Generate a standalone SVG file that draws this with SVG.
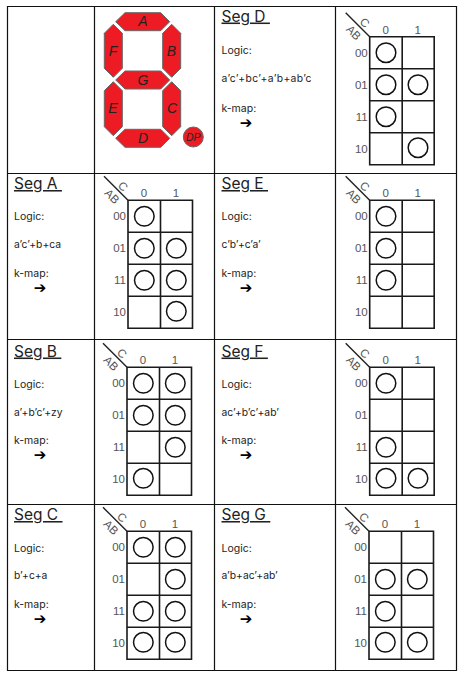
<svg xmlns="http://www.w3.org/2000/svg" width="465" height="680" viewBox="0 0 465 680">
<style>
.t{font-family:"Inter","Liberation Sans",sans-serif;fill:#222}
.h{font-size:15.5px;text-decoration:underline}
.l{font-size:10.5px}
.f{font-size:10.3px}
.ar{font-family:"DejaVu Sans",sans-serif;font-size:15px;font-weight:bold;fill:#000;text-anchor:middle}
.m{font-family:"Liberation Sans",sans-serif;font-size:11.5px;fill:#555}
.mc{text-anchor:middle}
.me{text-anchor:end}
.c{fill:none;stroke:#111;stroke-width:1.5}
.grid{fill:none;stroke:#1a1a1a;stroke-width:1.6}
.seg{fill:#ed1c24;stroke:#666;stroke-width:1}
.sl{font-family:"Liberation Sans",sans-serif;font-style:italic;font-size:14px;fill:#222;text-anchor:middle}
</style>
<defs>
<g id="frame">
<path class="grid" d="M0 0H64.500V128H0ZM32.500 0V128M0 32H64.500M0 64H64.500M0 96H64.500"/>
<path d="M-24-24L0 0" stroke="#222" stroke-width="1.4" fill="none"/>
</g>
</defs>
<g id="table" fill="none" stroke="#111" stroke-width="1.2">
<path d="M7.500 6.500H456.500V670.500H7.500ZM94.500 6.500V670.500M214.500 6.500V670.500M335.500 6.500V670.500M7.500 173.500H456.500M7.500 339.500H456.500M7.500 504.500H456.500"/>
</g>
<g id="seven-segment">
<polygon class="seg" points="115.700,21.700 125,12.700 160.700,12.700 169.700,21.700 160.700,30.700 125,30.700"/>
<polygon class="seg" points="104.300,33.300 113.300,24.300 122.300,33.300 122.300,68.300 113.300,77.300 104.300,68.300"/>
<polygon class="seg" points="162.700,33.300 171.700,24.300 180.700,33.300 180.700,68.300 171.700,77.300 162.700,68.300"/>
<polygon class="seg" points="115.700,80 125,71 160.700,71 169.700,80 160.700,89 125,89"/>
<polygon class="seg" points="104.300,90.700 113.300,81.700 122.300,90.700 122.300,126.700 113.300,135.700 104.300,126.700"/>
<polygon class="seg" points="162.700,90.700 171.700,81.700 180.700,90.700 180.700,126.700 171.700,135.700 162.700,126.700"/>
<polygon class="seg" points="115.700,138.300 125,129.300 160.700,129.300 169.700,138.300 160.700,147.300 125,147.300"/>
<circle class="seg" cx="193.300" cy="137" r="10"/>
<text class="sl" x="143" y="26">A</text>
<text class="sl" x="113" y="55.500">F</text>
<text class="sl" x="171.500" y="55.500">B</text>
<text class="sl" x="143" y="84.500">G</text>
<text class="sl" x="113" y="113">E</text>
<text class="sl" x="172" y="113">C</text>
<text class="sl" x="143" y="143">D</text>
<text class="sl" x="193.300" y="141" style="font-size:10.500px">DP</text>
</g>
<g id="seg-a-text" class="t"><text class="t h" x="14" y="189">Seg A&#160;</text><text class="t l" x="14" y="220">Logic:</text><text class="t f" x="14" y="248">a’c’+b+ca</text><text class="t l" x="14" y="277">k-map:</text><text class="ar" x="40" y="293">➔</text></g>
<g id="seg-b-text" class="t"><text class="t h" x="14" y="356.500">Seg B&#160;</text><text class="t l" x="14" y="388">Logic:</text><text class="t f" x="14" y="416">a’+b’c’+zy</text><text class="t l" x="14" y="444">k-map:</text><text class="ar" x="40" y="460">➔</text></g>
<g id="seg-c-text" class="t"><text class="t h" x="14" y="520">Seg C&#160;</text><text class="t l" x="14" y="552">Logic:</text><text class="t f" x="14" y="579">b’+c+a</text><text class="t l" x="14" y="608">k-map:</text><text class="ar" x="40" y="624">➔</text></g>
<g id="seg-d-text" class="t"><text class="t h" x="221.500" y="21.500">Seg D&#160;</text><text class="t l" x="221.500" y="54">Logic:</text><text class="t f" x="221.500" y="82" textLength="90">a’c’+bc’+a’b+ab’c</text><text class="t l" x="221.500" y="112">k-map:</text><text class="ar" x="246" y="128">➔</text></g>
<g id="seg-e-text" class="t"><text class="t h" x="221.500" y="189">Seg E&#160;</text><text class="t l" x="221.500" y="220">Logic:</text><text class="t f" x="221.500" y="248">c’b’+c’a’</text><text class="t l" x="221.500" y="277">k-map:</text><text class="ar" x="246" y="293">➔</text></g>
<g id="seg-f-text" class="t"><text class="t h" x="221.500" y="356.500">Seg F&#160;</text><text class="t l" x="221.500" y="388">Logic:</text><text class="t f" x="221.500" y="416">ac’+b’c’+ab’</text><text class="t l" x="221.500" y="444">k-map:</text><text class="ar" x="246" y="460">➔</text></g>
<g id="seg-g-text" class="t"><text class="t h" x="221.500" y="520">Seg G&#160;</text><text class="t l" x="221.500" y="552">Logic:</text><text class="t f" x="221.500" y="579">a’b+ac’+ab’</text><text class="t l" x="221.500" y="608">k-map:</text><text class="ar" x="246" y="624">➔</text></g>
<g id="kmap-d" transform="translate(369.700 36.700)"><use href="#frame"/><text class="m mc" x="16" y="-3">0</text><text class="m mc" x="48" y="-3">1</text><text class="m me" x="-2" y="20">00</text><text class="m me" x="-2" y="52">01</text><text class="m me" x="-2" y="84">11</text><text class="m me" x="-2" y="116">10</text><text class="m mc" transform="translate(-5 -14) rotate(45)" y="4">C</text><text class="m mc" transform="translate(-16 -4) rotate(45)" y="4">AB</text><circle class="c" cx="16.300" cy="16" r="9.800"/><circle class="c" cx="16.300" cy="48" r="9.800"/><circle class="c" cx="48.300" cy="48" r="9.800"/><circle class="c" cx="16.300" cy="80" r="9.800"/><circle class="c" cx="48.300" cy="111" r="9.800"/></g>
<g id="kmap-a" transform="translate(128 200.300)"><use href="#frame"/><text class="m mc" x="16" y="-3">0</text><text class="m mc" x="48" y="-3">1</text><text class="m me" x="-2" y="20">00</text><text class="m me" x="-2" y="52">01</text><text class="m me" x="-2" y="84">11</text><text class="m me" x="-2" y="116">10</text><text class="m mc" transform="translate(-5 -14) rotate(45)" y="4">C</text><text class="m mc" transform="translate(-16 -4) rotate(45)" y="4">AB</text><circle class="c" cx="16.300" cy="16" r="9.800"/><circle class="c" cx="16.300" cy="48" r="9.800"/><circle class="c" cx="48.300" cy="48" r="9.800"/><circle class="c" cx="16.300" cy="80" r="9.800"/><circle class="c" cx="48.300" cy="80" r="9.800"/><circle class="c" cx="48.300" cy="111" r="9.800"/></g>
<g id="kmap-e" transform="translate(369.700 200.300)"><use href="#frame"/><text class="m mc" x="16" y="-3">0</text><text class="m mc" x="48" y="-3">1</text><text class="m me" x="-2" y="20">00</text><text class="m me" x="-2" y="52">01</text><text class="m me" x="-2" y="84">11</text><text class="m me" x="-2" y="116">10</text><text class="m mc" transform="translate(-5 -14) rotate(45)" y="4">C</text><text class="m mc" transform="translate(-16 -4) rotate(45)" y="4">AB</text><circle class="c" cx="16.300" cy="16" r="9.800"/><circle class="c" cx="16.300" cy="48" r="9.800"/><circle class="c" cx="16.300" cy="80" r="9.800"/></g>
<g id="kmap-b" transform="translate(127 367.300)"><use href="#frame"/><text class="m mc" x="16" y="-3">0</text><text class="m mc" x="48" y="-3">1</text><text class="m me" x="-2" y="20">00</text><text class="m me" x="-2" y="52">01</text><text class="m me" x="-2" y="84">11</text><text class="m me" x="-2" y="116">10</text><text class="m mc" transform="translate(-5 -14) rotate(45)" y="4">C</text><text class="m mc" transform="translate(-16 -4) rotate(45)" y="4">AB</text><circle class="c" cx="16.300" cy="16" r="9.800"/><circle class="c" cx="48.300" cy="16" r="9.800"/><circle class="c" cx="16.300" cy="48" r="9.800"/><circle class="c" cx="48.300" cy="48" r="9.800"/><circle class="c" cx="48.300" cy="80" r="9.800"/><circle class="c" cx="16.300" cy="111" r="9.800"/></g>
<g id="kmap-f" transform="translate(369.700 367.300)"><use href="#frame"/><text class="m mc" x="16" y="-3">0</text><text class="m mc" x="48" y="-3">1</text><text class="m me" x="-2" y="20">00</text><text class="m me" x="-2" y="52">01</text><text class="m me" x="-2" y="84">11</text><text class="m me" x="-2" y="116">10</text><text class="m mc" transform="translate(-5 -14) rotate(45)" y="4">C</text><text class="m mc" transform="translate(-16 -4) rotate(45)" y="4">AB</text><circle class="c" cx="16.300" cy="16" r="9.800"/><circle class="c" cx="16.300" cy="80" r="9.800"/><circle class="c" cx="16.300" cy="111" r="9.800"/><circle class="c" cx="48.300" cy="111" r="9.800"/></g>
<g id="kmap-c" transform="translate(127 531.300)"><use href="#frame"/><text class="m mc" x="16" y="-3">0</text><text class="m mc" x="48" y="-3">1</text><text class="m me" x="-2" y="20">00</text><text class="m me" x="-2" y="52">01</text><text class="m me" x="-2" y="84">11</text><text class="m me" x="-2" y="116">10</text><text class="m mc" transform="translate(-5 -14) rotate(45)" y="4">C</text><text class="m mc" transform="translate(-16 -4) rotate(45)" y="4">AB</text><circle class="c" cx="16.300" cy="16" r="9.800"/><circle class="c" cx="48.300" cy="16" r="9.800"/><circle class="c" cx="48.300" cy="48" r="9.800"/><circle class="c" cx="16.300" cy="80" r="9.800"/><circle class="c" cx="48.300" cy="80" r="9.800"/><circle class="c" cx="16.300" cy="111" r="9.800"/><circle class="c" cx="48.300" cy="111" r="9.800"/></g>
<g id="kmap-g" transform="translate(369 531.300)"><use href="#frame"/><text class="m mc" x="16" y="-3">0</text><text class="m mc" x="48" y="-3">1</text><text class="m me" x="-2" y="20">00</text><text class="m me" x="-2" y="52">01</text><text class="m me" x="-2" y="84">11</text><text class="m me" x="-2" y="116">10</text><text class="m mc" transform="translate(-5 -14) rotate(45)" y="4">C</text><text class="m mc" transform="translate(-16 -4) rotate(45)" y="4">AB</text><circle class="c" cx="16.300" cy="48" r="9.800"/><circle class="c" cx="48.300" cy="48" r="9.800"/><circle class="c" cx="16.300" cy="80" r="9.800"/><circle class="c" cx="16.300" cy="111" r="9.800"/><circle class="c" cx="48.300" cy="111" r="9.800"/></g>
</svg>
